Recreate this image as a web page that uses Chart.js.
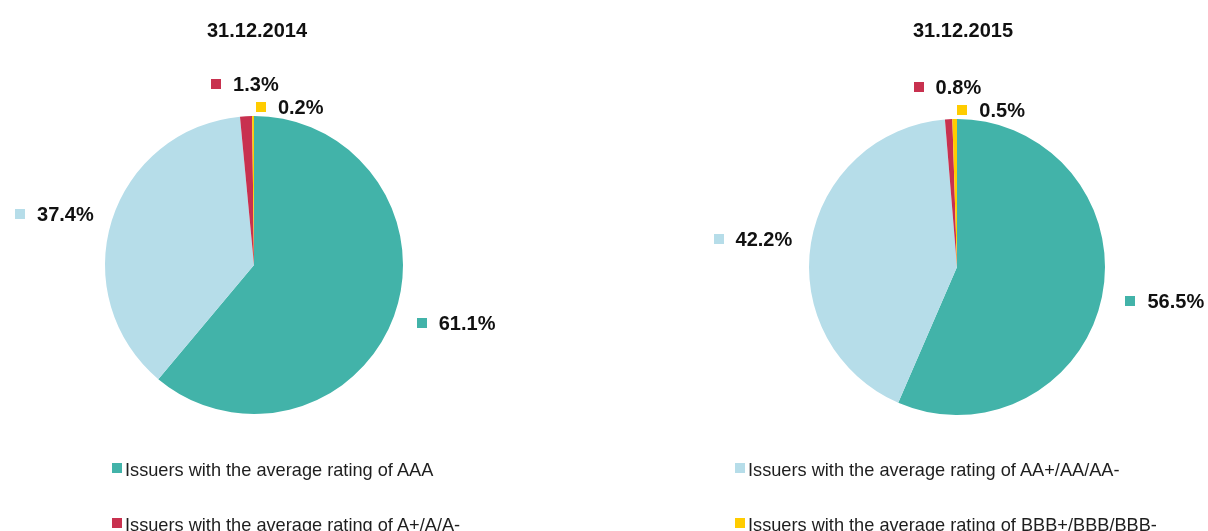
<!DOCTYPE html>
<html>
<head>
<meta charset="utf-8">
<script src="https://cdn.jsdelivr.net/npm/chart.js@4.4.1/dist/chart.umd.min.js"></script>
<style>
  html, body { margin: 0; padding: 0; background: #fff; overflow: hidden; }
  #wrap { position: relative; width: 1208px; height: 531px; }
  .cv { position: absolute; left: 0; top: 0; }
  .leg { position: absolute; font-family: "Liberation Sans", Arial, sans-serif; font-size: 18.2px; color: #1e1e1e; white-space: nowrap; line-height: 1; }
  .leg span.sq { position: absolute; width: 10px; height: 10px; }
  .leg span.tx { position: absolute; }
</style>
</head>
<body>
<div id="wrap">
  <div class="cv" style="width:1208px;height:531px"><canvas id="c1"></canvas></div>
  <div class="cv" style="width:1208px;height:531px"><canvas id="c2"></canvas></div>
</div>
<script>
// ---- data ----
const categories = [
  "Issuers with the average rating of AAA",
  "Issuers with the average rating of AA+/AA/AA-",
  "Issuers with the average rating of A+/A/A-",
  "Issuers with the average rating of BBB+/BBB/BBB-"
];
const titles = ["31.12.2014", "31.12.2015"];
const values2014 = [61.1, 37.4, 1.3, 0.2];
const values2015 = [56.5, 42.2, 0.8, 0.5];
const colors = ["#42B3A9", "#B6DDE9", "#C8314F", "#FFCC00"];

const FONT = '"Liberation Sans", Arial, sans-serif';

const labelPlugin = {
  id: 'pieLabels',
  afterDatasetsDraw(chart, args, opts) {
    const ctx = chart.ctx;
    const meta = chart.getDatasetMeta(0);
    const data = chart.data.datasets[0].data;
    const placed = [];
    ctx.save();
    // title
    const first = meta.data[0];
    const cx = first.x;
    ctx.font = 'bold 20px ' + FONT;
    ctx.fillStyle = '#111';
    ctx.textAlign = 'center';
    ctx.textBaseline = 'alphabetic';
    ctx.fillText(opts.title, cx + opts.titleShift, 37);

    ctx.textAlign = 'left';
    meta.data.forEach((arc, i) => {
      const p = arc.getProps(['x', 'y', 'startAngle', 'endAngle', 'outerRadius'], true);
      const mid = (p.startAngle + p.endAngle) / 2;
      const dx = Math.cos(mid), dy = Math.sin(mid);
      const r = p.outerRadius + 22;
      const ax = p.x + dx * r, ay = p.y + dy * r;
      const text = data[i].toFixed(1) + '%';
      ctx.font = 'bold 20px ' + FONT;
      const tw = ctx.measureText(text).width;
      const w = 10 + 12 + tw, h = 20;
      let left, top;
      if (Math.abs(dx) < 0.25) {
        left = ax - w / 2;
        top = dy < 0 ? ay - 10 - h / 2 : ay + 2;
      } else if (dx > 0) {
        left = ax + 2; top = ay - h / 2;
      } else {
        left = ax + 3 - w; top = ay - h / 2;
      }
      const overlaps = (l, t) => placed.some(b => l < b.l + b.w && l + w > b.l && t < b.t + b.h && t + h > b.t);
      if (overlaps(left, top)) {
        left = ax + 3;
        top = ay + 3;
      }
      placed.push({ l: left, t: top, w: w, h: h });
      const mcy = top + h / 2;
      ctx.fillStyle = colors[i];
      ctx.fillRect(Math.round(left), Math.round(mcy - 5), 10, 10);
      ctx.fillStyle = '#111';
      ctx.fillText(text, left + 22, mcy + 7);
    });
    ctx.restore();
  }
};

function makePie(id, values, title, pad, titleShift) {
  return new Chart(document.getElementById(id), {
    type: 'pie',
    data: {
      labels: categories,
      datasets: [{ data: values, backgroundColor: colors, borderWidth: 0 }]
    },
    options: {
      responsive: true,
      maintainAspectRatio: false,
      animation: false,
      events: [],
      layout: { padding: pad },
      plugins: {
        legend: { display: false },
        tooltip: { enabled: false },
        pieLabels: { title: title, titleShift: titleShift }
      }
    },
    plugins: [labelPlugin]
  });
}

makePie('c1', values2014, titles[0], { left: 105, right: 805, top: 116, bottom: 117 }, 3);
makePie('c2', values2015, titles[1], { left: 809, right: 103, top: 119, bottom: 116 }, 6);

// ---- legend (HTML, two columns) ----
const wrap = document.getElementById('wrap');
const colX = [112, 735];
const rowY = [463, 518];
categories.forEach((c, i) => {
  const col = i % 2, row = Math.floor(i / 2);
  const d = document.createElement('div');
  d.className = 'leg';
  d.style.left = colX[col] + 'px';
  d.style.top = rowY[row] + 'px';
  const sq = document.createElement('span');
  sq.className = 'sq';
  sq.style.background = colors[i];
  sq.style.left = '0px'; sq.style.top = '0px';
  const tx = document.createElement('span');
  tx.className = 'tx';
  tx.textContent = c;
  tx.style.left = '13px'; tx.style.top = '-2px';
  d.appendChild(sq); d.appendChild(tx);
  wrap.appendChild(d);
});
</script>
</body>
</html>
